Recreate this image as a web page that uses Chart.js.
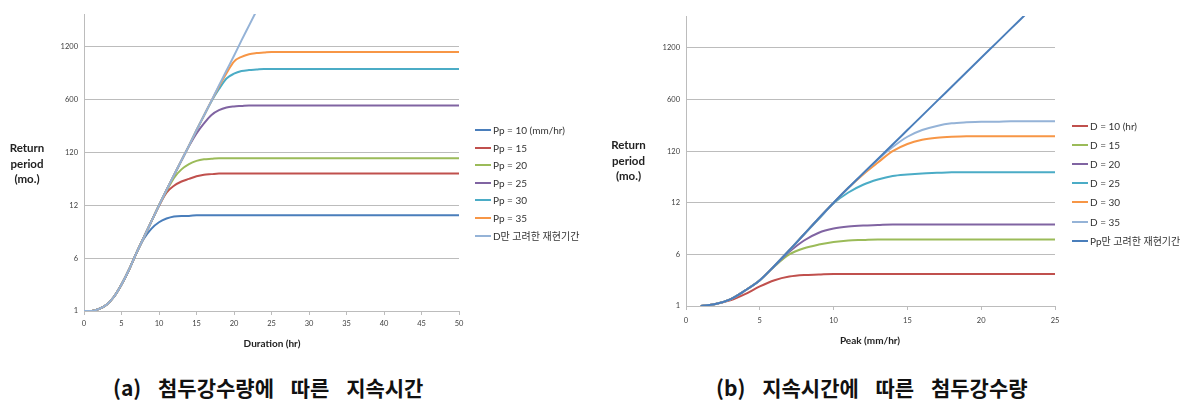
<!DOCTYPE html>
<html>
<head>
<meta charset="utf-8">
<script src="https://cdn.jsdelivr.net/npm/chart.js@4.4.1/dist/chart.umd.min.js"></script>
<style>
  body { margin: 0; width: 1194px; height: 410px; background: #fff; position: relative; overflow: hidden; font-family: Lato, 'Noto Sans CJK KR', sans-serif; }
  .panel { position: absolute; top: 0; height: 360px; }
  .y-title { position: absolute; font-weight: bold; font-size: 11.5px; line-height: 15.5px; text-align: center; color: #222; }
  .x-title { position: absolute; font-weight: bold; font-size: 10px; line-height: 12px; transform: translateX(-50%); white-space: nowrap; color: #222; }
  .legend-item { position: absolute; font-size: 10px; line-height: 12px; white-space: nowrap; color: #333; display: flex; align-items: center; }
  .legend-item i { display: inline-block; width: 16px; height: 2px; margin-right: 2px; }
  .caption { position: absolute; font-family: 'Noto Sans CJK KR', sans-serif; font-weight: bold; font-size: 21px; line-height: 26px; word-spacing: 12px; white-space: nowrap; color: #111; }
</style>
</head>
<body>
<div class="panel" style="left:0;width:600px"><canvas id="chartA"></canvas></div>
<div class="panel" style="left:600px;width:594px"><canvas id="chartB"></canvas></div>
<div id="overlay"></div>
<script>
// y axis is evenly spaced by category: value i sits on returnTicks[i]
const returnTicks = ['1', '6', '12', '120', '600', '1200'];

// (a) x = duration (hr)
const durations = [0, 1, 2, 3, 4, 5, 6, 7, 8, 9, 10, 11, 12, 13, 14, 15, 16, 17, 18, 19, 20, 21, 22, 23, 24, 25, 30, 35, 40, 45, 50];
const pp10 = [0, 0, 0.04, 0.12, 0.27, 0.5, 0.78, 1.1, 1.37, 1.56, 1.68, 1.75, 1.79, 1.8, 1.8, 1.81, 1.81, 1.81, 1.81, 1.81, 1.81, 1.81, 1.81, 1.81, 1.81, 1.81, 1.81, 1.81, 1.81, 1.81, 1.81];
const pp15 = [0, 0, 0.04, 0.12, 0.27, 0.5, 0.78, 1.1, 1.4, 1.7, 1.99, 2.24, 2.37, 2.45, 2.5, 2.55, 2.58, 2.59, 2.6, 2.6, 2.6, 2.6, 2.6, 2.6, 2.6, 2.6, 2.6, 2.6, 2.6, 2.6, 2.6];
const pp20 = [0, 0, 0.04, 0.12, 0.27, 0.5, 0.78, 1.1, 1.4, 1.7, 2.0, 2.27, 2.52, 2.68, 2.78, 2.84, 2.87, 2.88, 2.89, 2.89, 2.89, 2.89, 2.89, 2.89, 2.89, 2.89, 2.89, 2.89, 2.89, 2.89, 2.89];
const pp25 = [0, 0, 0.04, 0.12, 0.27, 0.5, 0.78, 1.1, 1.4, 1.7, 2.0, 2.29, 2.57, 2.85, 3.12, 3.36, 3.55, 3.71, 3.8, 3.85, 3.87, 3.88, 3.89, 3.89, 3.89, 3.89, 3.89, 3.89, 3.89, 3.89, 3.89];
const pp30 = [0, 0, 0.04, 0.12, 0.27, 0.5, 0.78, 1.1, 1.4, 1.7, 2.0, 2.29, 2.57, 2.85, 3.13, 3.42, 3.7, 3.97, 4.2, 4.4, 4.49, 4.54, 4.56, 4.57, 4.58, 4.58, 4.58, 4.58, 4.58, 4.58, 4.58];
const pp35 = [0, 0, 0.04, 0.12, 0.27, 0.5, 0.78, 1.1, 1.4, 1.7, 2.0, 2.29, 2.57, 2.85, 3.13, 3.42, 3.7, 3.98, 4.25, 4.5, 4.72, 4.81, 4.86, 4.88, 4.89, 4.9, 4.9, 4.9, 4.9, 4.9, 4.9];
const dOnly = [0, 0, 0.04, 0.12, 0.27, 0.5, 0.78, 1.1, 1.4, 1.7, 2.0, 2.29, 2.57, 2.85, 3.13, 3.42, 3.7, 3.98, 4.27, 4.55, 4.83, 5.12, 5.4, 5.68, null, null, null, null, null, null, null];
const labelsA = ['Pp = 10 (mm/hr)', 'Pp = 15', 'Pp = 20', 'Pp = 25', 'Pp = 30', 'Pp = 35', 'D만 고려한 재현기간'];

// (b) x = peak (mm/hr)
const peaks = [1, 2, 3, 4, 5, 6, 7, 8, 9, 10, 11, 12, 13, 14, 15, 16, 17, 18, 19, 20, 21, 22, 23, 24, 25];
const d10 = [0, 0.04, 0.11, 0.23, 0.38, 0.5, 0.57, 0.6, 0.61, 0.62, 0.62, 0.62, 0.62, 0.62, 0.62, 0.62, 0.62, 0.62, 0.62, 0.62, 0.62, 0.62, 0.62, 0.62, 0.62];
const d15 = [0, 0.04, 0.13, 0.3, 0.5, 0.77, 1.0, 1.12, 1.19, 1.24, 1.27, 1.28, 1.29, 1.29, 1.29, 1.29, 1.29, 1.29, 1.29, 1.29, 1.29, 1.29, 1.29, 1.29, 1.29];
const d20 = [0, 0.04, 0.13, 0.3, 0.5, 0.78, 1.05, 1.27, 1.42, 1.5, 1.54, 1.56, 1.57, 1.58, 1.58, 1.58, 1.58, 1.58, 1.58, 1.58, 1.58, 1.58, 1.58, 1.58, 1.58];
const d25 = [0, 0.04, 0.13, 0.3, 0.5, 0.78, 1.08, 1.39, 1.69, 1.99, 2.2, 2.35, 2.45, 2.52, 2.55, 2.57, 2.58, 2.59, 2.59, 2.59, 2.59, 2.59, 2.59, 2.59, 2.59];
const d30 = [0, 0.04, 0.13, 0.3, 0.5, 0.78, 1.08, 1.39, 1.7, 2.0, 2.29, 2.55, 2.78, 3.0, 3.14, 3.22, 3.26, 3.28, 3.29, 3.29, 3.29, 3.29, 3.29, 3.29, 3.29];
const d35 = [0, 0.04, 0.13, 0.3, 0.5, 0.78, 1.08, 1.39, 1.7, 2.0, 2.29, 2.57, 2.84, 3.08, 3.28, 3.41, 3.49, 3.54, 3.56, 3.57, 3.57, 3.58, 3.58, 3.58, 3.58];
const ppOnly = [0, 0.04, 0.13, 0.3, 0.5, 0.78, 1.08, 1.39, 1.7, 2.0, 2.29, 2.57, 2.85, 3.13, 3.41, 3.69, 3.97, 4.25, 4.53, 4.81, 5.09, 5.37, 5.65, null, null];
const labelsB = ['D = 10 (hr)', 'D = 15', 'D = 20', 'D = 25', 'D = 30', 'D = 35', 'Pp만 고려한 재현기간'];

const colorsA = ['#4a7ebb', '#c0504d', '#9bbb59', '#8064a2', '#4bacc6', '#f79646', '#95b3d7'];
const colorsB = ['#c0504d', '#9bbb59', '#8064a2', '#4bacc6', '#f79646', '#95b3d7', '#4a7ebb'];

const GRID = '#bcbcbc';
const TICK_FONT = { family: 'Lato', size: 7.5 };

function toPoints(xs, ys) {
  return xs.map((x, i) => ({ x: x, y: ys[i] }));
}

function drawPanel(id, xs, series, colors, opts) {
  const ctx = document.getElementById(id).getContext('2d');
  const last = series.length - 1;
  new Chart(ctx, {
    type: 'line',
    data: {
      datasets: series.map((ys, i) => ({
        data: toPoints(xs, ys),
        borderColor: colors[i],
        borderWidth: 2,
        pointRadius: 0,
        fill: false,
        cubicInterpolationMode: 'monotone',
        order: i === last ? 0 : last - i
      }))
    },
    options: {
      responsive: true,
      maintainAspectRatio: false,
      animation: false,
      events: [],
      layout: { padding: { left: 0, top: opts.top, right: opts.right, bottom: 0 } },
      plugins: { legend: { display: false }, tooltip: { enabled: false } },
      scales: {
        x: {
          type: 'linear',
          min: 0,
          max: opts.xMax,
          afterBuildTicks: s => { s.ticks = opts.xTicks.map(v => ({ value: v })); },
          afterFit: s => { s.height = opts.xHeight; },
          grid: { drawOnChartArea: false, drawTicks: true, tickLength: 4, color: GRID },
          border: { color: GRID },
          ticks: { font: TICK_FONT, color: '#404040', padding: opts.xPad, maxRotation: 0 }
        },
        y: {
          type: 'linear',
          min: 0,
          max: 5.62,
          afterBuildTicks: s => { s.ticks = returnTicks.map((_, i) => ({ value: i })); },
          afterFit: s => { s.width = opts.yWidth; },
          grid: { drawTicks: false, color: GRID },
          border: { color: GRID },
          ticks: { font: TICK_FONT, color: '#404040', padding: 6, callback: v => returnTicks[v] }
        }
      }
    }
  });
}

drawPanel('chartA', durations, [pp10, pp15, pp20, pp25, pp30, pp35, dOnly], colorsA,
  { top: 14, right: 141, xHeight: 49, yWidth: 84, xMax: 50, xTicks: [0, 5, 10, 15, 20, 25, 30, 35, 40, 45, 50], xPad: 4 });
drawPanel('chartB', peaks, [d10, d15, d20, d25, d30, d35, ppOnly], colorsB,
  { top: 16, right: 139, xHeight: 54, yWidth: 86, xMax: 25, xTicks: [0, 5, 10, 15, 20, 25], xPad: 6 });

// titles, legends, captions
function legendHtml(labels, colors, left, top, step) {
  return labels.map((label, i) => `
    <div class="legend-item" style="left:${left}px;top:${(top + i * step - 6).toFixed(1)}px">
      <i style="background:${colors[i]}"></i>${label}
    </div>`).join('');
}

document.getElementById('overlay').innerHTML = `
  <div class="y-title" style="left:0;width:54px;top:140px">Return<br>period<br>(mo.)</div>
  <div class="y-title" style="left:601px;width:55px;top:137px">Return<br>period<br>(mo.)</div>
  <div class="x-title" style="left:272px;top:337px">Duration (hr)</div>
  <div class="x-title" style="left:870px;top:334px">Peak (mm/hr)</div>
  ${legendHtml(labelsA, colorsA, 475, 130, 17.6)}
  ${legendHtml(labelsB, colorsB, 1072, 126, 19.1)}
  <div class="caption" style="left:113px;top:374px">(a) 첨두강수량에 따른 지속시간</div>
  <div class="caption" style="left:716px;top:374px">(b) 지속시간에 따른 첨두강수량</div>
`;
</script>
</body>
</html>
